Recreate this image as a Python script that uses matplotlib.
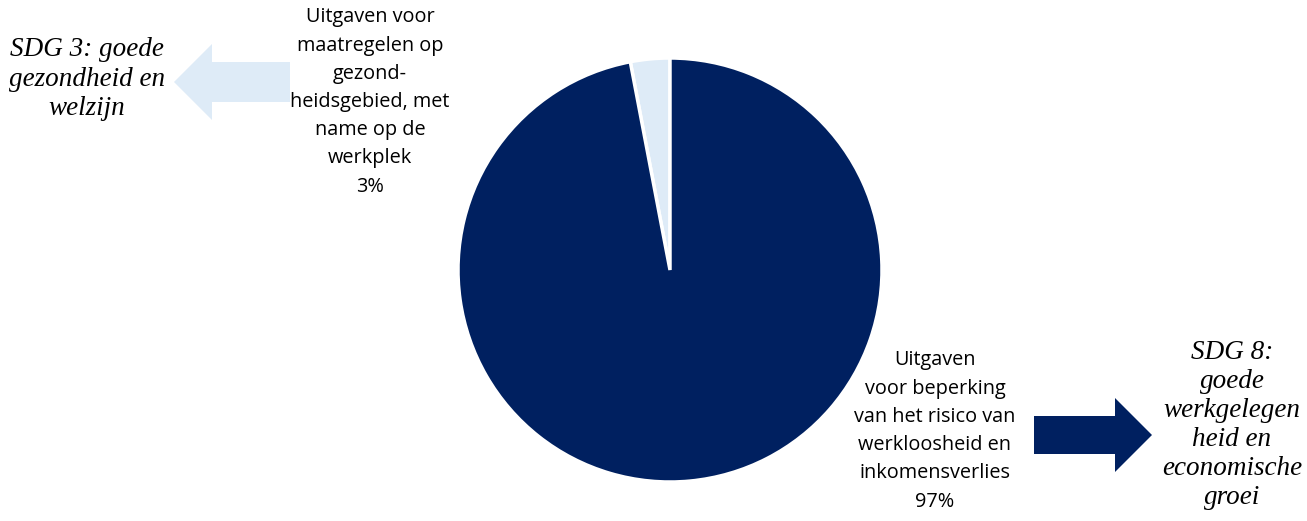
import matplotlib.pyplot as plt
from matplotlib.patches import FancyArrow

shares = [3, 97]
colors = ["#DEEBF7", "#002060"]
labels = [
    "Uitgaven voor\nmaatregelen op\ngezond-\nheidsgebied, met\nname op de\nwerkplek\n3%",
    "Uitgaven\nvoor beperking\nvan het risico van\nwerkloosheid en\ninkomensverlies\n97%",
]
sdg_labels = [
    "SDG 3: goede\ngezondheid en\nwelzijn",
    "SDG 8:\ngoede\nwerkgelegen\nheid en\neconomische\ngroei",
]

W, H = 1307, 521
fig = plt.figure(figsize=(W / 100, H / 100), dpi=100)
ax = fig.add_axes([0, 0, 1, 1])

# pie in pixel coordinates; y axis is flipped, so start at -90 (screen top)
ax.pie(shares, colors=colors, startangle=-90, counterclock=False,
       center=(670, 270), radius=212,
       wedgeprops=dict(edgecolor="white", linewidth=2.5))
ax.set_xlim(0, W)
ax.set_ylim(H, 0)
ax.set_aspect("equal")
ax.axis("off")

sans = ["Open Sans", "DejaVu Sans"]
ax.text(370, 102, labels[0], ha="center", va="center", fontsize=14.3,
        family=sans, linespacing=1.55)
ax.text(935, 431, labels[1], ha="center", va="center", fontsize=14.3,
        family=sans, linespacing=1.55)

ax.text(87, 79, sdg_labels[0], ha="center", va="center", fontsize=19.5,
        family="Liberation Serif", style="italic", linespacing=1.25)
ax.text(1232, 425, sdg_labels[1], ha="center", va="center", fontsize=19.5,
        family="Liberation Serif", style="italic", linespacing=1.21)

ax.add_patch(FancyArrow(290, 82, -116, 0, width=40, head_width=76, head_length=38,
                        length_includes_head=True, color=colors[0], lw=0))
ax.add_patch(FancyArrow(1034, 435, 118, 0, width=38, head_width=74, head_length=37,
                        length_includes_head=True, color=colors[1], lw=0))

fig.savefig("out.png", dpi=100)
